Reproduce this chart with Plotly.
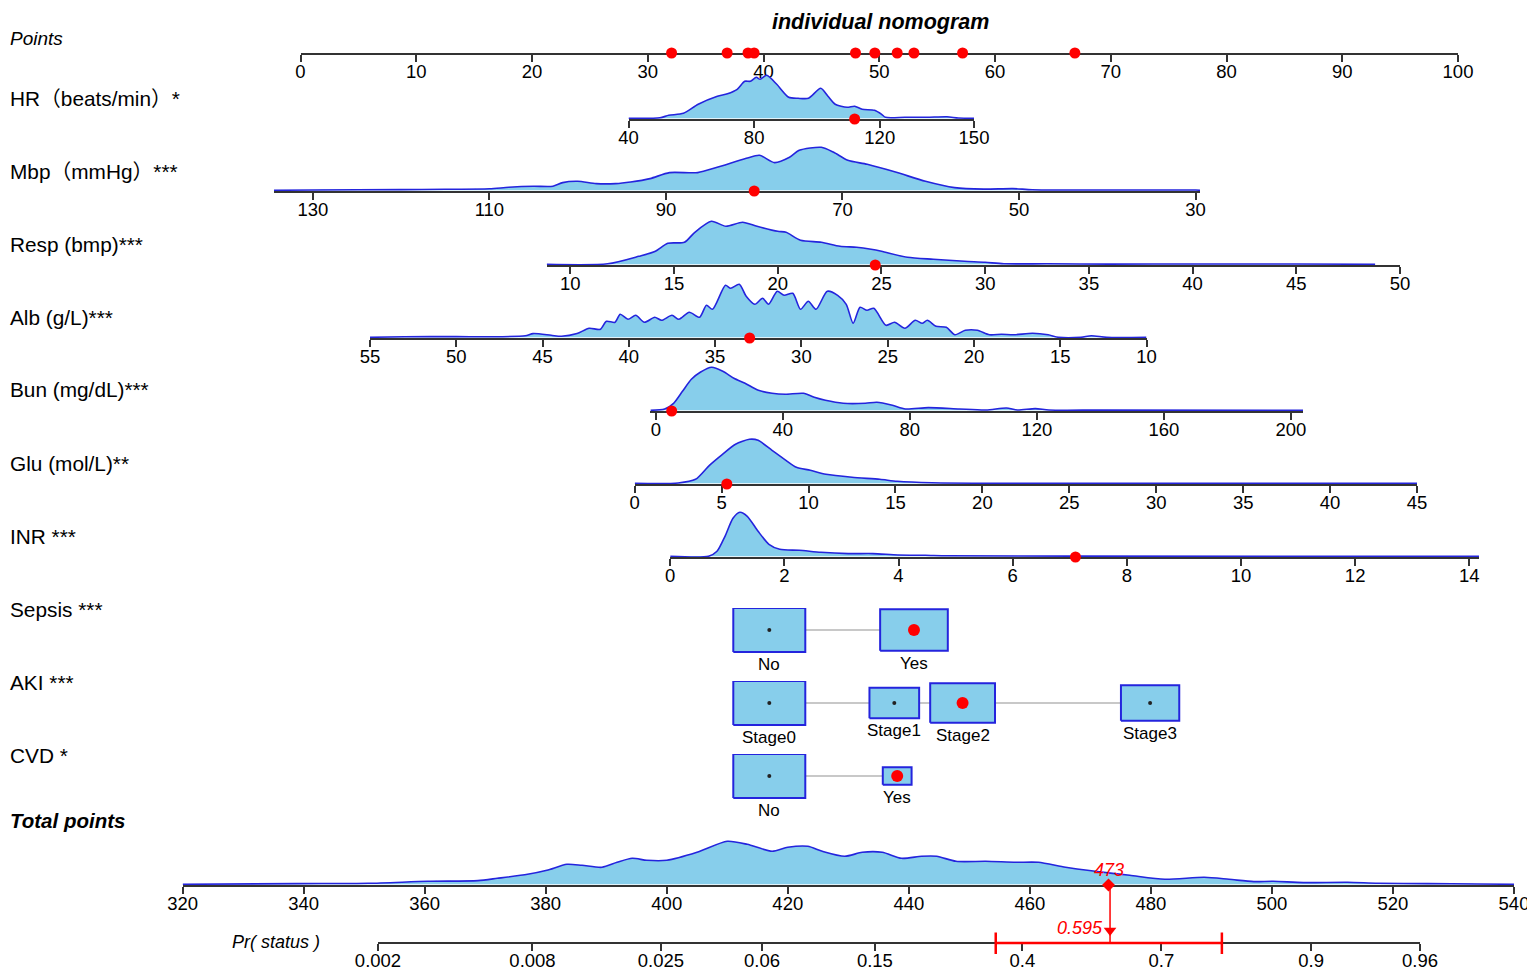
import math
import plotly.graph_objects as go

W, H = 1535, 972
PAGE = 8          # the browser's default body margin shifts the figure by this much

# ---------------- data ----------------
points_ticks = [0, 10, 20, 30, 40, 50, 60, 70, 80, 90, 100]
# points of this individual for HR, Mbp, Resp, Alb, Bun, Glu, INR, Sepsis, AKI, CVD
ind_points = [47.95, 39.19, 49.62, 38.66, 32.06, 36.86, 66.9, 53.0, 57.2, 51.55]

hr_ticks = [40, 80, 120, 150]
hr_x = [40, 50, 52.8, 57.5, 62.2, 68.3, 71.5, 74.6, 77, 78.8, 80.7, 81.9, 84, 87.2, 91, 94,
        97.3, 101.2, 103.5, 105.8, 109.6, 112, 114.4, 118.3, 120.6, 121.8, 128, 135, 141.4, 145, 150]
hr_d = [0, 0.5, 3, 5, 14, 22, 24.5, 29, 37, 37, 41, 39, 43, 34, 21, 20,
        20, 30, 22, 14, 11, 12, 9, 8, 4, 1, 1, 1, 1.5, 0.3, 0]
hr_val = 112

mbp_ticks = [130, 110, 90, 70, 50, 30]
mbp_x = [134.4, 130, 120, 115, 110, 107.8, 105, 102.8, 101.7, 100, 97.9, 95.7, 94, 91.8, 89.6, 86.4,
         84.2, 80.9, 79.4, 77.7, 76, 74.9, 72.4, 71, 69.4, 67.2, 63.9, 60.6, 57.3, 54, 50.7, 48.5,
         40, 30, 29.5]
mbp_d = [0, 0.3, 0.7, 1, 1.5, 3, 4, 4, 7.7, 9, 6.7, 6.7, 8.3, 11.7, 17.7, 17.7,
         23, 32, 35, 27.7, 33, 40, 43, 38, 30, 26, 18, 9, 2.7, 1.2, 1.7, 0.5,
         0.3, 0.3, 0]
mbp_val = 80

resp_ticks = [10, 15, 20, 25, 30, 35, 40, 45, 50]
resp_x = [8.86, 11.8, 13.3, 14.1, 14.7, 15.5, 16, 16.8, 17.5, 18.3, 19, 20, 20.4, 21.1, 22.1,
          23, 23.8, 24.5, 25, 26.25, 27.5, 29, 30, 30.9, 33, 36, 40, 45, 48.8]
resp_d = [0, 0.5, 8, 13, 21, 22, 32, 43, 38, 42, 38, 33, 32, 24, 22,
          18, 17, 15, 13, 7, 5, 3, 2, 0.5, 0.5, 0.2, 0.3, 0.3, 0]
resp_val = 24.7

alb_ticks = [55, 50, 45, 40, 35, 30, 25, 20, 15, 10]
alb_x = [55, 53, 50, 48, 46, 45.55, 44.5, 43.9, 43, 42.3, 41.65, 41.3, 40.8, 40.5, 40.05,
         39.6, 39.1, 38.5, 38.1, 37.5, 37.1, 36.5, 35.9, 35.5, 35.15, 34.4, 34.1, 33.6, 33.2, 32.7,
         32.25, 31.9, 31.4, 31.0, 30.5, 30.05, 29.6, 29.15, 28.5, 27.9, 27.4, 27.0, 26.6, 26.2, 25.8,
         25.1, 24.6, 24.0, 23.4, 23.0, 22.7, 22.2, 21.6, 21.1, 20.5, 19.8, 19.1, 18.4, 17.7, 16.6,
         15.7, 15.1, 13.8, 13.2, 12.3, 10]
alb_d = [0, 0.5, 0.7, 0.5, 1.5, 3.7, 2, 1, 3.7, 9, 8, 16, 15, 23, 18,
         22, 15, 20, 17, 22, 18, 25, 20, 32, 28, 52, 49, 53, 41, 33,
         39, 33, 46, 42, 44, 28, 36, 28, 46, 42, 33, 14, 30, 27, 29,
         12, 15, 9, 17, 14, 17, 11, 10, 2.5, 7, 7, 2.5, 3, 2.5, 4,
         2.5, 0, 0, 1.5, 0, 0]
alb_val = 33

bun_ticks = [0, 40, 80, 120, 160, 200]
bun_x = [-1.7, 2.8, 5.6, 8.4, 11.2, 14, 17.6, 21.1, 24.6, 28.1, 32.3, 36.6, 40.8, 46.5, 49.9,
         53.4, 59, 66, 69.6, 74.5, 78.6, 85.8, 95.6, 104, 110.4, 113.9, 119.5, 123.8, 140, 203.8]
bun_d = [0, 1.3, 7, 19, 31, 38, 43, 39, 32, 27, 20, 17, 16, 17, 13,
         10, 7, 7, 8, 5, 1.3, 2.7, 1.3, 0.3, 2.3, 0.3, 1.7, 0.3, 0.2, 0]
bun_val = 5

glu_ticks = [0, 5, 10, 15, 20, 25, 30, 35, 40, 45]
glu_x = [0, 2.5, 3.5, 4.3, 5.05, 5.8, 6.6, 7.1, 7.9, 8.7, 9.3, 10.1, 11.0, 12.5, 14.1, 15.1, 17.1, 21, 45]
glu_d = [0, 0.3, 4, 18, 29, 39, 44, 43, 33, 23, 16, 13, 9, 6, 4, 2, 0.5, 0, 0]
glu_val = 5.3

inr_ticks = [0, 2, 4, 6, 8, 10, 12, 14]
inr_x = [0, 0.67, 0.82, 0.96, 1.1, 1.22, 1.35, 1.54, 1.73, 1.92, 2.26, 2.64, 3.12, 3.55, 3.99, 4.47, 4.85, 7, 14.17]
inr_d = [0, 0, 5, 20, 38, 44, 40, 25, 12, 7, 6, 4, 2.7, 2.7, 1.3, 1, 0.5, 0.2, 0]
inr_val = 7.1

sepsis_levels = ["No", "Yes"]
sepsis_pts = [40.5, 53.0]
sepsis_size = [1.0, 0.94]
sepsis_val = "Yes"

aki_levels = ["Stage0", "Stage1", "Stage2", "Stage3"]
aki_pts = [40.5, 51.3, 57.2, 73.4]
aki_size = [1.0, 0.69, 0.9, 0.81]
aki_val = "Stage2"

cvd_levels = ["No", "Yes"]
cvd_pts = [40.5, 51.55]
cvd_size = [1.0, 0.4]
cvd_val = "Yes"

total_ticks = [320, 340, 360, 380, 400, 420, 440, 460, 480, 500, 520, 540]
tot_x = [320, 339, 350.7, 360.5, 368.8, 372, 377, 380.2, 383.5, 386, 389.3, 391.8, 394.3, 396.7, 400,
         405, 410, 413.3, 417.4, 420, 423.3, 425.7, 429.4, 432.3, 435.6, 438.8, 442.1, 444.6, 447.8,
         452.7, 457.7, 461.4, 465.9, 470.8, 476.5, 482.3, 488.8, 492.9, 497, 500.2, 505.2, 512.5,
         517.5, 525.7, 533.9, 540]
tot_d = [0, 0.7, 1, 3, 3.7, 6, 10, 14, 20, 19, 17, 22, 26, 24, 24,
         32, 43, 40, 33, 37, 38, 33, 28, 32, 32, 26, 28, 28, 23,
         23, 22, 22, 17, 13, 9, 5, 7, 5, 2.7, 3, 1.7, 2,
         1, 0.7, 0.3, 0]

prob_ticks = [0.002, 0.008, 0.025, 0.06, 0.15, 0.4, 0.7, 0.9, 0.96]
prob_val = 0.595
prob_ci = [0.344, 0.801]

# ---------------- styling ----------------
FONT = "Liberation Sans, Arial, Noto Sans CJK SC, sans-serif"
AX = "#333333"
FILL = "#87CEEB"
EDGE = "#2424dd"
RED = "#ff0000"
YLO = -0.7      # axis line sits just under the density baseline
DENS_TOP = 56
BOXW = 3.11     # half width of a full size box, in points units
CAT_LO = 1.8    # room below the boxes for the level names

FW, FH = W - PAGE, H - PAGE


def logit(p):
    return math.log(p / (1 - p))


def fx(px):
    return (px - PAGE) / FW


def fy(py):
    return 1 - (py - PAGE) / FH


def axis_style(ticks, labels=None):
    return dict(tickmode="array", tickvals=ticks,
                ticktext=labels if labels else [str(t) for t in ticks],
                showline=True, linecolor=AX, linewidth=1.5, ticks="outside", ticklen=7,
                tickwidth=1.5, tickcolor=AX, showgrid=False, zeroline=False,
                tickfont=dict(family=FONT, size=18.5, color="black"), ticklabelstandoff=-6,
                ticklabeloverflow="allow", layer="below traces", fixedrange=True, automargin=False)


fig = go.Figure()
layout = {}
annotations = []

# points axis (1)
layout["xaxis"] = dict(domain=[fx(300.5), fx(1458)], range=[0, 100], anchor="y", **axis_style(points_ticks))
layout["yaxis"] = dict(domain=[fy(53), fy(53 - 12)], range=[YLO, 12 + YLO], visible=False, anchor="x")
fig.add_trace(go.Scatter(x=ind_points, y=[YLO] * len(ind_points), xaxis="x", yaxis="y", mode="markers",
                         marker=dict(color=RED, size=11), cliponaxis=False, hoverinfo="skip"))

# continuous predictors (2..8)
cont_rows = [
    (hr_x, hr_d, hr_ticks, hr_val, (628.5, 974), (40, 150), 119),
    (mbp_x, mbp_d, mbp_ticks, mbp_val, (274, 1200), (134.4, 29.5), 191),
    (resp_x, resp_d, resp_ticks, resp_val, (546.7, 1400), (8.86, 50), 265),
    (alb_x, alb_d, alb_ticks, alb_val, (370, 1146.5), (55, 10), 338),
    (bun_x, bun_d, bun_ticks, bun_val, (650.4, 1303), (-1.7, 203.8), 411),
    (glu_x, glu_d, glu_ticks, glu_val, (634.7, 1417), (0, 45), 484),
    (inr_x, inr_d, inr_ticks, inr_val, (670.2, 1479), (0, 14.17), 557),
]
for i, (xs, ds, ticks, val, dom, rng, line_y) in enumerate(cont_rows, start=2):
    xa, ya = f"x{i}", f"y{i}"
    layout[f"xaxis{i}"] = dict(domain=[fx(dom[0]), fx(dom[1])], range=list(rng), anchor=ya, **axis_style(ticks))
    layout[f"yaxis{i}"] = dict(domain=[fy(line_y), fy(line_y - DENS_TOP)], range=[YLO, DENS_TOP + YLO],
                               visible=False, anchor=xa)
    fig.add_trace(go.Scatter(x=xs, y=ds, xaxis=xa, yaxis=ya, mode="lines",
                             line=dict(color=EDGE, width=1.6, shape="spline", smoothing=0.7),
                             fill="tozeroy", fillcolor=FILL, hoverinfo="skip"))
    fig.add_trace(go.Scatter(x=[val], y=[YLO], xaxis=xa, yaxis=ya, mode="markers",
                             marker=dict(color=RED, size=11), cliponaxis=False, hoverinfo="skip"))

# categorical predictors (9..11), on the points scale
cat_rows = [
    (sepsis_levels, sepsis_pts, sepsis_size, sepsis_val, 630),
    (aki_levels, aki_pts, aki_size, aki_val, 703),
    (cvd_levels, cvd_pts, cvd_size, cvd_val, 776),
]
for i, (levels, pts, sizes, val, cy) in enumerate(cat_rows, start=9):
    xa, ya = f"x{i}", f"y{i}"
    layout[f"xaxis{i}"] = dict(domain=[fx(300.5), fx(1458)], range=[0, 100], anchor=ya, visible=False,
                               fixedrange=True)
    layout[f"yaxis{i}"] = dict(domain=[fy(cy + 22 * CAT_LO), fy(cy - 22)], range=[-CAT_LO, 1], visible=False,
                               anchor=xa, fixedrange=True)
    fig.add_trace(go.Scatter(x=[min(pts), max(pts)], y=[0, 0], xaxis=xa, yaxis=ya, mode="lines",
                             line=dict(color="#c8c8c8", width=2.2), hoverinfo="skip"))
    for p, s in zip(pts, sizes):
        w = BOXW * s
        fig.add_trace(go.Scatter(x=[p - w, p + w, p + w, p - w, p - w], y=[-s, -s, s, s, -s],
                                 xaxis=xa, yaxis=ya, mode="lines", fill="toself", fillcolor=FILL,
                                 line=dict(color=EDGE, width=2), hoverinfo="skip"))
    fig.add_trace(go.Scatter(x=pts, y=[0] * len(pts), xaxis=xa, yaxis=ya, mode="markers",
                             marker=dict(color="#222222", size=4), hoverinfo="skip"))
    for name, p, s in zip(levels, pts, sizes):
        annotations.append(dict(text=name, x=p, y=-s, xref=xa, yref=ya, xanchor="center", yanchor="top",
                                yshift=-1, showarrow=False,
                                font=dict(family=FONT, size=17, color="black")))
    k = levels.index(val)
    fig.add_trace(go.Scatter(x=[pts[k]], y=[0], xaxis=xa, yaxis=ya, mode="markers",
                             marker=dict(color=RED, size=12), hoverinfo="skip"))

# total points (12)
ind_total = round(sum(ind_points))
layout["xaxis12"] = dict(domain=[fx(182.6), fx(1514)], range=[320, 540], anchor="y12", **axis_style(total_ticks))
layout["yaxis12"] = dict(domain=[fy(885), fy(885 - DENS_TOP)], range=[YLO, DENS_TOP + YLO], visible=False,
                         anchor="x12")
fig.add_trace(go.Scatter(x=tot_x, y=tot_d, xaxis="x12", yaxis="y12", mode="lines",
                         line=dict(color=EDGE, width=1.6, shape="spline", smoothing=0.7),
                         fill="tozeroy", fillcolor=FILL, hoverinfo="skip"))
fig.add_trace(go.Scatter(x=[ind_total], y=[YLO], xaxis="x12", yaxis="y12", mode="markers",
                         marker=dict(color=RED, size=10, symbol="diamond"), cliponaxis=False, hoverinfo="skip"))
annotations.append(dict(text=str(ind_total), x=ind_total, y=YLO, xref="x12", yref="y12", xanchor="center",
                        yanchor="bottom", yshift=3, showarrow=False,
                        font=dict(family=FONT, size=18, color=RED, style="italic")))

# probability axis (13), logit scale
lp = logit(prob_val)
c0, c1 = logit(prob_ci[0]), logit(prob_ci[1])
layout["xaxis13"] = dict(domain=[fx(378), fx(1420)], range=[logit(prob_ticks[0]), logit(prob_ticks[-1])],
                         anchor="free", position=fy(943),
                         **axis_style([logit(p) for p in prob_ticks], [str(p) for p in prob_ticks]))
layout["yaxis13"] = dict(domain=[fy(960), fy(885)], range=[-17, 58], visible=False, anchor="x13")
fig.add_trace(go.Scatter(x=[lp, lp], y=[0, 58], xaxis="x13", yaxis="y13", mode="lines",
                         line=dict(color=RED, width=1.5), hoverinfo="skip"))
fig.add_trace(go.Scatter(x=[c0, c1], y=[0, 0], xaxis="x13", yaxis="y13",
                         mode="lines", line=dict(color=RED, width=2.5), hoverinfo="skip"))
fig.add_trace(go.Scatter(x=[c0, c0, None, c1, c1], y=[-11, 10.5, None, -11, 10.5], xaxis="x13", yaxis="y13",
                         mode="lines", line=dict(color=RED, width=2.5), hoverinfo="skip"))
fig.add_trace(go.Scatter(x=[lp], y=[12.5], xaxis="x13", yaxis="y13", mode="markers",
                         marker=dict(color=RED, size=11, symbol="triangle-down"), hoverinfo="skip"))
annotations.append(dict(text=str(prob_val), x=lp, y=15.5, xref="x13", yref="y13", xanchor="right",
                        yanchor="middle", xshift=-5, showarrow=False,
                        font=dict(family=FONT, size=18, color=RED, style="italic")))

# row labels
row_labels = [
    ("Points", 39, 19, "italic", "normal"),
    ("HR（beats/min）*", 98, 20.8, "normal", "normal"),
    ("Mbp（mmHg）***", 171, 20.8, "normal", "normal"),
    ("Resp (bmp)***", 244, 20.8, "normal", "normal"),
    ("Alb (g/L)***", 317, 20.8, "normal", "normal"),
    ("Bun (mg/dL)***", 390, 20.8, "normal", "normal"),
    ("Glu (mol/L)**", 463, 20.8, "normal", "normal"),
    ("INR ***", 536, 20.8, "normal", "normal"),
    ("Sepsis ***", 609, 20.8, "normal", "normal"),
    ("AKI ***", 682, 20.8, "normal", "normal"),
    ("CVD *", 755, 20.8, "normal", "normal"),
    ("Total points", 820, 20.5, "italic", "bold"),
]
for text, y, size, style, weight in row_labels:
    annotations.append(dict(text=text, x=fx(8), y=fy(y), xref="paper", yref="paper", xanchor="left",
                            yanchor="middle", showarrow=False,
                            font=dict(family=FONT, size=size, color="black", style=style, weight=weight)))
annotations.append(dict(text="Pr( status )", x=fx(230), y=fy(942), xref="paper", yref="paper", xanchor="left",
                        yanchor="middle", showarrow=False,
                        font=dict(family=FONT, size=18, color="black", style="italic")))
annotations.append(dict(text="individual nomogram", x=fx(880), y=fy(22), xref="paper", yref="paper",
                        xanchor="center", yanchor="middle", showarrow=False,
                        font=dict(family=FONT, size=21.5, color="black", style="italic", weight="bold")))

fig.update_layout(**layout)
fig.update_layout(width=FW, height=FH, margin=dict(l=0, r=0, t=0, b=0, pad=0, autoexpand=False),
                  showlegend=False, paper_bgcolor="white", plot_bgcolor="rgba(0,0,0,0)",
                  annotations=annotations, hovermode=False)

fig.write_html("out.html")
